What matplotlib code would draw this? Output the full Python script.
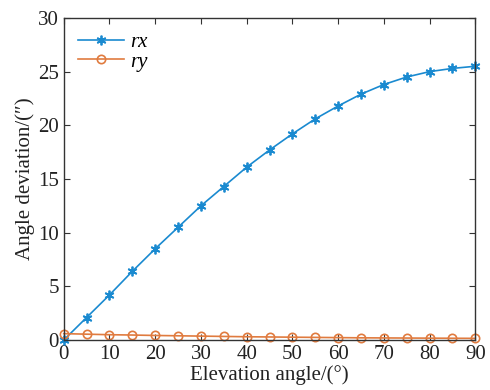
import matplotlib
matplotlib.use('Agg')
from matplotlib import pyplot as plt

elevation = [0, 5, 10, 15, 20, 25, 30, 35, 40, 45, 50, 55, 60, 65, 70, 75, 80, 85, 90]
rx = [0.0, 2.1, 4.2, 6.4, 8.5, 10.5, 12.5, 14.3, 16.1, 17.7, 19.2, 20.6, 21.8,
      22.9, 23.8, 24.5, 25.0, 25.3, 25.5]
ry = [0.6, 0.55, 0.5, 0.47, 0.43, 0.4, 0.37, 0.34, 0.31, 0.29, 0.27, 0.25,
      0.23, 0.21, 0.2, 0.19, 0.18, 0.17, 0.16]

plt.rcParams['font.family'] = ['Liberation Serif', 'DejaVu Serif']

fig, ax = plt.subplots(figsize=(4.9, 3.9), dpi=100)
fig.subplots_adjust(left=0.13, right=0.97, bottom=0.128, top=0.954)

# asterisk marker like MATLAB's '*'
ax.plot(elevation, rx, color='#1a8ad0', marker=(6, 2, 0), markersize=7,
        markeredgewidth=1.3, lw=1.2, label='rx', clip_on=False)
ax.plot(elevation, ry, color='#e07b3f', marker='o', markersize=6, lw=1.2,
        markeredgewidth=1.2, markerfacecolor='none', label='ry', clip_on=False)

ax.set_xlim(0, 90)
ax.set_ylim(0, 30)
ax.set_xticks(range(0, 91, 10))
ax.set_yticks(range(0, 31, 5))
ax.tick_params(direction='in', top=True, right=True, labelsize=15, length=4,
               color='#333333', labelcolor='#222222')
for s in ax.spines.values():
    s.set_color('#333333')
    s.set_linewidth(1.0)

ax.set_xlabel('Elevation angle/(°)', fontsize=15, color='#222222', labelpad=1)
ax.set_ylabel("Angle deviation/(″)", fontsize=15, color='#222222', labelpad=2)

leg = ax.legend(loc='upper left', frameon=False, fontsize=15, handlelength=2.2,
                borderaxespad=0.3, labelspacing=0.0, handletextpad=0.3)
for t in leg.get_texts():
    t.set_fontstyle('italic')

fig.savefig('out.png', dpi=100)
